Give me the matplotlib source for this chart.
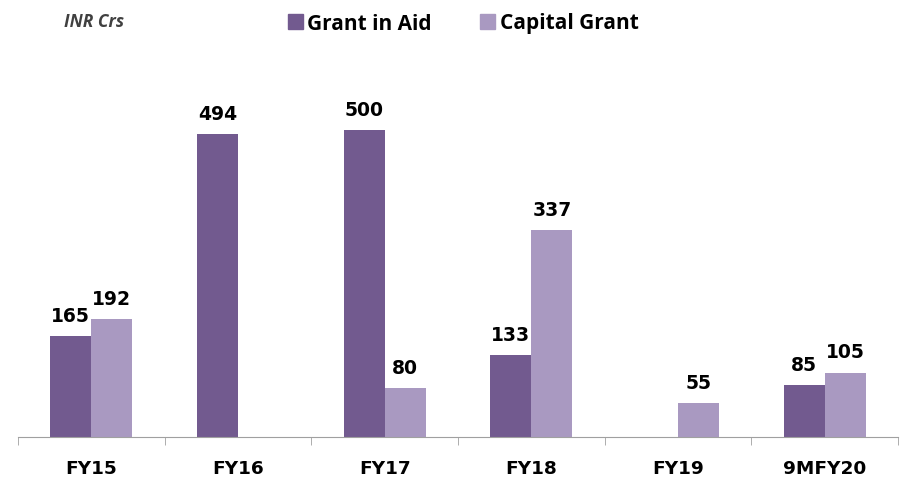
import numpy as np
import matplotlib.pyplot as plt
from matplotlib.patches import Patch

# data (INR Crs)
years = ["FY15", "FY16", "FY17", "FY18", "FY19", "9MFY20"]
grant_in_aid = [165, 494, 500, 133, 0, 85]
capital_grant = [192, 0, 80, 337, 55, 105]

dark = "#725A8F"
light = "#A999C1"

fig = plt.figure(figsize=(9.11, 4.85), dpi=100)
ax = fig.add_axes([18/911, 47/485, 880/911, 368.4/485])

x = np.arange(len(years))
w = 0.28
b1 = ax.bar(x - w/2, grant_in_aid, w, color=dark)
b2 = ax.bar(x + w/2, capital_grant, w, color=light)

#value labels, skip the zero bars
for bars, vals in [(b1, grant_in_aid), (b2, capital_grant)]:
    for rect, v in zip(bars, vals):
        if v == 0:
            continue
        ax.annotate(str(v), (rect.get_x() + rect.get_width()/2, v),
                    xytext=(0, 8), textcoords="offset points",
                    ha="center", va="bottom", fontsize=13.5, fontweight="bold")

ax.set_xlim(-0.5, len(years) - 0.5)
ax.set_ylim(0, 600)
ax.set_yticks([])
for s in ["top", "right", "left"]:
    ax.spines[s].set_visible(False)
ax.spines["bottom"].set_color("#A0A0A0")

ax.set_xticks(x)
ax.set_xticklabels(years, fontsize=13.3, fontweight="bold")
ax.tick_params(axis="x", which="major", length=0, pad=16)
ax.set_xticks(np.arange(-0.5, len(years)), minor=True)
ax.tick_params(axis="x", which="minor", length=6, color="#A0A0A0", direction="out")

fig.text(64/911, 1 - 22/485, "INR Crs", fontsize=12.5, fontweight="bold", style="italic",
         color="#404040", va="center", family="Open Sans")

handles = [Patch(color=dark, label="Grant in Aid"), Patch(color=light, label="Capital Grant")]
fig.legend(handles=handles, loc="center", bbox_to_anchor=(463/911, 1 - 24/485), ncol=2,
           frameon=False, handlelength=0.75, handleheight=0.75, handletextpad=0.2,
           columnspacing=2.3, prop={"weight": "bold", "size": 15, "family": "Open Sans"})

fig.savefig("out.png", dpi=100)
